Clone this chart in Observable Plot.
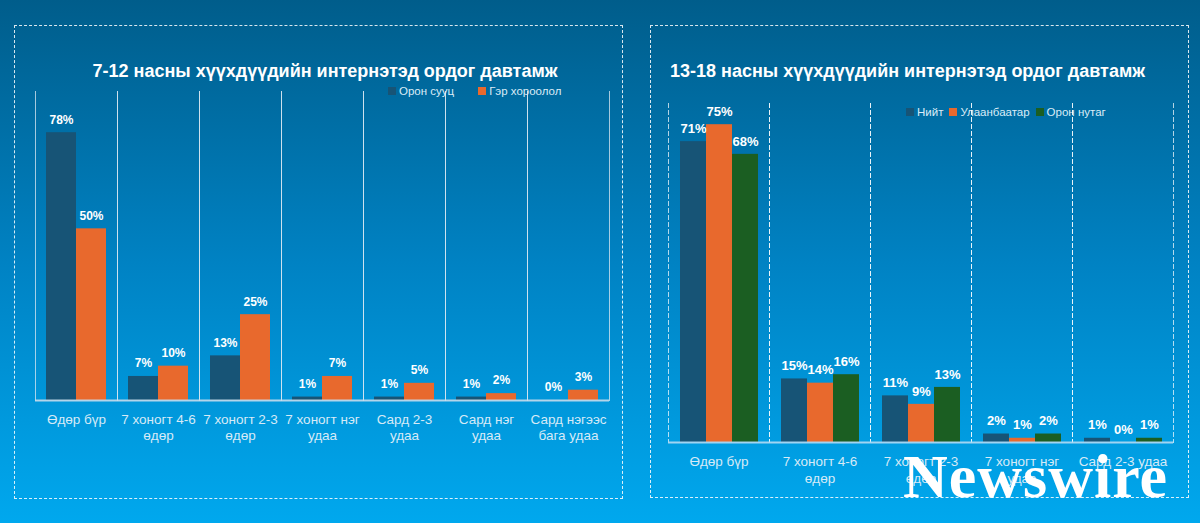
<!DOCTYPE html>
<html>
<head>
<meta charset="utf-8">
<script src="https://cdn.jsdelivr.net/npm/d3@7"></script>
<script src="https://cdn.jsdelivr.net/npm/@observablehq/plot@0.6"></script>
<style>
  html, body { margin: 0; padding: 0; }
  body { width: 1200px; height: 523px; overflow: hidden; }
  #page {
    position: relative; width: 1200px; height: 523px; overflow: hidden;
    background: linear-gradient(to bottom, #005d8b 0%, #0082c3 50%, #00a8ee 100%);
    font-family: "Liberation Sans", Arial, sans-serif; color: #fff;
  }
  .panel { position: absolute; border: 1px dashed rgba(255,255,255,0.85); box-sizing: border-box; }
  .title { position: absolute; font-weight: bold; font-size: 18px; color: #fff; white-space: nowrap; }
  .legend { position: absolute; display: flex; align-items: center; font-size: 11.5px; color: #dcecf7; white-space: nowrap; }
  .legend .sw { display: inline-block; width: 8px; height: 8px; margin-right: 3px; }
  .legend .item { display: flex; align-items: center; }
  .plot { position: absolute; top: 0; }
  .watermark { position: absolute; font-family: "Liberation Serif", "DejaVu Serif", serif; font-weight: bold; font-size: 62px; color: #fff; white-space: nowrap; letter-spacing: 1px; }
</style>
</head>
<body>
<div id="page">
  <div class="panel" style="left:14px; top:25px; width:609px; height:474px;"></div>
  <div class="panel" style="left:650px; top:25px; width:539px; height:473px;"></div>
  <div class="title" id="title-left" style="left:0; width:650px; text-align:center; top:61px;"></div>
  <div class="title" id="title-right" style="left:670px; top:61px;"></div>
  <div class="legend" id="legend-left" style="left:388px; top:85px;"></div>
  <div class="legend" id="legend-right" style="left:906px; top:106px;"></div>
  <div class="plot" id="plot-left" style="left:0;"></div>
  <div class="plot" id="plot-right" style="left:650px;"></div>
  <div class="watermark" style="left:903px; top:441px;">Newswire</div>
</div>
<script>
// ---------- Data ----------
const leftTitle = "7-12 насны хүүхдүүдийн интернэтэд ордог давтамж";
const leftCategories = ["Өдөр бүр", "7 хоногт 4-6\nөдөр", "7 хоногт 2-3\nөдөр", "7 хоногт нэг\nудаа", "Сард 2-3\nудаа", "Сард нэг\nудаа", "Сард нэгээс\nбага удаа"];
const leftSeries = ["Орон сууц", "Гэр хороолол"];
const leftApartment = [78, 7, 13, 1, 1, 1, 0];
const leftGer = [50, 10, 25, 7, 5, 2, 3];

const rightTitle = "13-18 насны хүүхдүүдийн интернэтэд ордог давтамж";
const rightCategories = ["Өдөр бүр", "7 хоногт 4-6\nөдөр", "7 хоногт 2-3\nөдөр", "7 хоногт нэг\nудаа", "Сард 2-3 удаа"];
const rightSeries = ["Нийт", "Улаанбаатар", "Орон нутаг"];
const rightTotal = [71, 15, 11, 2, 1];
const rightUB = [75, 14, 9, 1, 0];
const rightRural = [68, 16, 13, 2, 1];

// ---------- Styles ----------
const leftColors = ["#175476", "#e8692d"];
const rightColors = ["#175476", "#e8692d", "#1b5e22"];

function toRows(categories, series, valueLists) {
  const rows = [];
  categories.forEach((cat, i) => {
    series.forEach((s, j) => rows.push({cat, series: s, value: valueLists[j][i]}));
  });
  return rows;
}

function legend(el, series, colors) {
  series.forEach((s, i) => {
    const item = document.createElement("span");
    item.className = "item";
    item.style.marginRight = el.id === "legend-left" ? "24px" : "6px";
    const sw = document.createElement("span");
    sw.className = "sw";
    sw.style.background = colors[i];
    item.appendChild(sw);
    item.appendChild(document.createTextNode(s));
    el.appendChild(item);
  });
}

function chart(o) {
  return Plot.plot({
    width: o.width, height: o.height,
    marginTop: o.mt, marginBottom: o.mb, marginLeft: o.ml, marginRight: o.mr,
    style: {background: "transparent", color: "#ffffff", fontFamily: "'Liberation Sans', Arial, sans-serif", overflow: "visible"},
    fx: {domain: o.categories, padding: 0, label: null},
    x: {domain: o.series, paddingInner: 0, paddingOuter: o.pOuter, axis: null},
    y: {domain: [0, o.yMax], axis: null},
    color: {domain: o.series, range: o.colors},
    marks: [
      Plot.frame({anchor: "left", stroke: o.sepColor, strokeWidth: 1, strokeDasharray: o.dash}),
      Plot.frame({anchor: "right", stroke: o.sepColor, strokeWidth: 1, strokeDasharray: o.dash}),
      Plot.barY(o.rows, {fx: "cat", x: "series", y: "value", fill: "series"}),
      Plot.ruleY([0], {stroke: o.baseColor, strokeWidth: 2}),
      Plot.text(o.rows, {fx: "cat", x: "series", y: "value", text: d => d.value + "%", dy: -13, fill: "#ffffff", fontSize: o.labelSize, fontWeight: "bold"}),
      Plot.axisFx({anchor: "bottom", tickSize: 0, tickPadding: o.tickPadding, fontSize: 13.5, color: "#d6eaf7", lineHeight: o.lineHeight, label: null})
    ]
  });
}

document.getElementById("title-left").textContent = leftTitle;
document.getElementById("title-right").textContent = rightTitle;
legend(document.getElementById("legend-left"), leftSeries, leftColors);
legend(document.getElementById("legend-right"), rightSeries, rightColors);

document.getElementById("plot-left").appendChild(chart({
  categories: leftCategories, series: leftSeries, colors: leftColors,
  rows: toRows(leftCategories, leftSeries, [leftApartment, leftGer]),
  width: 622, height: 523, mt: 91, mb: 123, ml: 34, mr: 12,
  yMax: 90, pOuter: 0.36, labelSize: 12, tickPadding: 12, lineHeight: 1.2,
  sepColor: "rgba(220,232,242,0.75)", dash: null, baseColor: "rgba(200,220,235,0.9)"
}));

document.getElementById("plot-right").appendChild(chart({
  categories: rightCategories, series: rightSeries, colors: rightColors,
  rows: toRows(rightCategories, rightSeries, [rightTotal, rightUB, rightRural]),
  width: 538, height: 523, mt: 103, mb: 81, ml: 16, mr: 13,
  yMax: 80, pOuter: 0.44, labelSize: 13, tickPadding: 12, lineHeight: 1.25,
  sepColor: "rgba(255,255,255,0.7)", dash: "4,3", baseColor: "rgba(170,215,242,0.95)"
}));
</script>
</body>
</html>
